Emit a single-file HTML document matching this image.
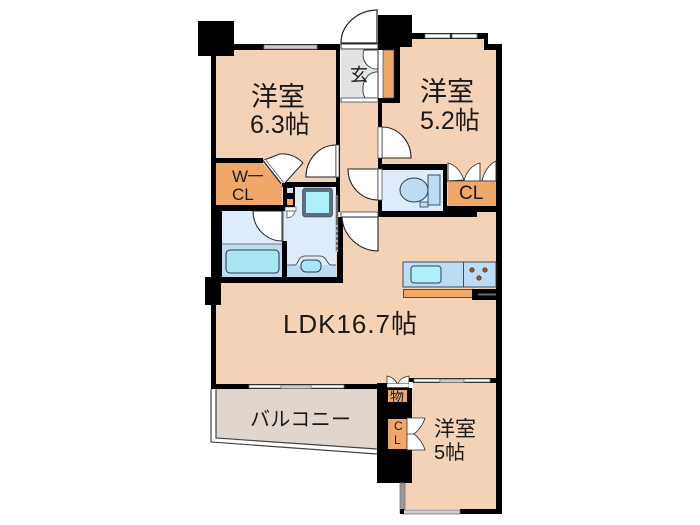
<!DOCTYPE html>
<html><head><meta charset="utf-8"><style>
html,body{margin:0;padding:0;background:#fff;width:700px;height:525px;overflow:hidden}
svg{display:block}
text{font-family:"Liberation Sans","Noto Sans CJK JP",sans-serif;fill:#1a1a1a}
</style></head><body>
<svg width="700" height="525" viewBox="0 0 700 525" xmlns="http://www.w3.org/2000/svg">
<rect width="700" height="525" fill="#fff"/>
<!-- floors -->
<path d="M216 50H340V211H216Z" fill="#f3d2b5"/>
<path d="M400 39H484V50H496V211H382V103H400Z" fill="#f3d2b5"/>
<path d="M340 98H380V215H340Z" fill="#f3d2b5"/>
<path d="M216 217H496V385H216Z" fill="#f3d2b5"/>
<rect x="470" y="210" width="26" height="8" fill="#f3d2b5"/>
<path d="M405 383H496V509H405Z" fill="#f3d2b5"/>
<path d="M341 50H378V98H341Z" fill="#e2e2e2"/>
<path d="M216 389H377V449L216 438Z" fill="#e0d6cd"/>
<!-- balcony rail -->
<path d="M211 389V442L377 454" fill="none" stroke="#444" stroke-width="1.200"/>
<path d="M216 389V438L377 449" fill="none" stroke="#444" stroke-width="1.200"/>
<!-- wash / bath / toilet -->
<rect x="222" y="211" width="60" height="33" fill="#dcecfb"/>
<rect x="222" y="244" width="60" height="33" fill="#bcdcf6"/>
<rect x="283" y="187" width="53" height="90" fill="#dcecfb"/>
<rect x="287" y="265" width="49" height="12" fill="#bcdcf6"/>
<rect x="382" y="170" width="61" height="41" fill="#dcecfb"/>
<!-- walls -->
<g fill="#000">
<rect x="198" y="21" width="36" height="35"/>
<rect x="234" y="44" width="106" height="6"/>
<rect x="211" y="50" width="5" height="339"/>
<rect x="216" y="158" width="47" height="5"/>
<rect x="216" y="205" width="79" height="6"/>
<rect x="216" y="205" width="6" height="72"/>
<rect x="282" y="182" width="58" height="5"/>
<rect x="283" y="182" width="12" height="25"/>
<rect x="282" y="241" width="5" height="42"/>
<rect x="205" y="277" width="135" height="6"/>
<rect x="205" y="277" width="16" height="28"/>
<rect x="336" y="50" width="4" height="162"/>
<rect x="337" y="217" width="6" height="66"/>
<rect x="378" y="15" width="34" height="32"/>
<rect x="378" y="47" width="22" height="3"/>
<rect x="394" y="47" width="6" height="56"/>
<rect x="378" y="98" width="22" height="5"/>
<rect x="378" y="103" width="4" height="24"/>
<rect x="412" y="33" width="76" height="6"/>
<rect x="484" y="39" width="4" height="11"/>
<rect x="484" y="44" width="18" height="6"/>
<rect x="496" y="44" width="6" height="470"/>
<rect x="378" y="158" width="4" height="12"/>
<rect x="378" y="164" width="69" height="6"/>
<rect x="443" y="164" width="4" height="52"/>
<rect x="378" y="200" width="4" height="17"/>
<rect x="378" y="211" width="99" height="6"/>
<rect x="447" y="206" width="50" height="6"/>
<rect x="211" y="384" width="166" height="5"/>
<rect x="377" y="383" width="35" height="100"/>
<rect x="405" y="378" width="92" height="5"/>
<rect x="460" y="509" width="42" height="5"/>
</g>
<!-- windows -->
<g stroke="#777" stroke-width=".8">
<rect x="264" y="45" width="53" height="4" fill="#ccc"/>
<rect x="425" y="34" width="25" height="4" fill="#fff"/>
<rect x="452" y="34" width="25" height="4" fill="#fff"/>
<rect x="249" y="385" width="32" height="3" fill="#fff"/>
<rect x="281" y="385" width="30" height="3.500" fill="#ccc"/>
<rect x="311" y="385" width="33" height="3" fill="#fff"/>
<rect x="414" y="379" width="26" height="3" fill="#fff"/>
<rect x="440" y="379" width="24" height="3.500" fill="#ccc"/>
<rect x="464" y="379" width="26" height="3" fill="#fff"/>
<rect x="400" y="483" width="5" height="30" fill="#999"/>
<rect x="403" y="510" width="57" height="4" fill="#ccc"/>
</g>
<rect x="400" y="509" width="4" height="5" fill="#000"/>
<!-- front door -->
<path d="M341 43A37 33 0 0 1 377 10V43Z" fill="#fff" stroke="#222" stroke-width="1.200"/>
<rect x="341" y="44" width="37" height="5" fill="#fff" stroke="#333" stroke-width="1"/>
<!-- entry closet -->
<rect x="378" y="50" width="5" height="48" fill="#fff"/>
<rect x="383" y="50" width="11" height="48" fill="#f0a868" stroke="#333" stroke-width=".6"/>
<path d="M378 50H364A14 14 0 0 0 378 69ZM378 98H365A14 17 0 0 1 378 72Z" fill="#fff" stroke="#333" stroke-width=".9"/>
<path d="M378 50V98" stroke="#333" stroke-width="1"/>
<rect x="341" y="98" width="37" height="4" fill="#fff" stroke="#444" stroke-width=".8"/>
<!-- W-CL -->
<path d="M216 163H262L282 184V205H216Z" fill="#f0a868"/>
<path d="M264 160L284 184L303 163A28 28 0 0 0 280 154Z" fill="#fff" stroke="#222" stroke-width="1"/>
<path d="M264 160L282 183" stroke="#333" stroke-width="3.500"/>
<path d="M264.500 160L282.500 183" stroke="#fff" stroke-width="1.500"/>
<!-- shaft -->
<rect x="287" y="188" width="6" height="5" fill="#c7e5f5"/>
<rect x="287" y="199" width="6" height="6" fill="#f0a868"/>
<!-- room door 6.3 / wash -->
<path d="M336 177H306A30 32 0 0 1 336 145Z" fill="#fff" stroke="#222" stroke-width="1.100"/>
<rect x="336" y="145" width="3" height="32" fill="#fff" stroke="#444" stroke-width=".7"/>
<!-- bath door -->
<path d="M282 211V241A29 30 0 0 1 253 211Z" fill="#fff" stroke="#222" stroke-width="1"/>
<rect x="282" y="211" width="1.500" height="30" fill="#555"/>
<!-- bath tub -->
<rect x="226" y="250" width="53" height="23" rx="4" fill="#a8e6f6" stroke="#2d3f50" stroke-width="1.100"/>
<path d="M222 244H282" stroke="#555" stroke-width=".7"/>
<!-- washroom door bits -->
<path d="M285 207H296V211H285Z" fill="#fff" stroke="#444" stroke-width=".6"/>
<path d="M287 211V218A8 8 0 0 0 295 211Z" fill="#fff" stroke="#444" stroke-width=".7"/>
<rect x="302.500" y="188" width="30" height="29" rx="3" fill="#5b7080" stroke="#333" stroke-width=".6"/>
<rect x="306" y="192" width="23" height="21" fill="#aef0fa"/>
<path d="M287 265H295C298 265 298 256 305 256H320C327 256 327 265 331 265H336" fill="#dcecfb" stroke="#333" stroke-width=".8"/>
<rect x="301" y="260" width="20" height="12" rx="5" fill="#a8e6f6" stroke="#2d3f50" stroke-width="1"/>
<path d="M337 195V252" stroke="#666" stroke-width="2.500"/>
<path d="M337 225V252" stroke="#fff" stroke-width="1" stroke-dasharray="2 3"/>
<!-- door into 5.2 -->
<path d="M382 127A29 31 0 0 1 411 158H382Z" fill="#fff" stroke="#222" stroke-width="1.100"/>
<rect x="378" y="127" width="4" height="31" fill="#fff" stroke="#444" stroke-width=".7"/>
<!-- toilet door -->
<path d="M378 169H348A30 31 0 0 0 378 200Z" fill="#fff" stroke="#222" stroke-width="1.100"/>
<rect x="378" y="169" width="4" height="31" fill="#fff" stroke="#444" stroke-width=".7"/>
<!-- toilet -->
<ellipse cx="414" cy="190" rx="14" ry="12" fill="#bcdcf6" stroke="#2d3f50" stroke-width="1"/>
<rect x="428" y="175" width="12" height="30" fill="#bcdcf6" stroke="#2d3f50" stroke-width=".9"/>
<rect x="420" y="202" width="8" height="5" fill="#bcdcf6" stroke="#2d3f50" stroke-width=".8"/>
<!-- CL 5.2 -->
<rect x="448" y="182" width="48" height="24" fill="#f0a868"/>
<path d="M448 181V163C456 165 461 172 464 180ZM464 181C466 172 472 165 480 163V181ZM482 181C484 172 488 165 496 161V181Z" fill="#fff" stroke="#333" stroke-width=".9"/>
<path d="M447 181H496" stroke="#333" stroke-width="1"/>
<!-- LDK door -->
<rect x="341" y="212" width="37" height="5" fill="#fff" stroke="#444" stroke-width=".8"/>
<path d="M342 217H378V251A37 36 0 0 1 342 217Z" fill="#fff" stroke="#222" stroke-width="1.100"/>
<!-- kitchen -->
<rect x="403" y="262" width="93" height="25" fill="#bcdcf6" stroke="#2d3f50" stroke-width=".9"/>
<path d="M463.500 262V287" stroke="#2d3f50" stroke-width=".9"/>
<rect x="411" y="266" width="30" height="17" rx="3" fill="#aef0fa" stroke="#2d3f50" stroke-width="1"/>
<g fill="#b5541c" stroke="#222" stroke-width=".7"><circle cx="472" cy="270" r="2.200"/><circle cx="485" cy="270" r="2.200"/><circle cx="479" cy="278" r="2.200"/></g>
<rect x="403.500" y="289.500" width="69" height="8" fill="#f0a868" stroke="#333" stroke-width=".8"/>
<rect x="472" y="289" width="24" height="11" fill="#000"/>
<rect x="478" y="293.500" width="18" height="2" fill="#667"/>
<!-- door at 物 -->
<path d="M387 376C392 377 396 380 397 384H387ZM409 376C403 377 399 380 398 384H409Z" fill="#fff" stroke="#333" stroke-width=".8"/>
<rect x="387" y="383.500" width="22" height="4" fill="#fff" stroke="#333" stroke-width=".5"/>
<rect x="409" y="382" width="4" height="6" fill="#fff"/>
<rect x="388" y="390" width="19" height="12" fill="#f0a868"/>
<rect x="388" y="419" width="19" height="30" fill="#f0a868"/>
<path d="M407 418H425C423 425 418 431 414 434C418 437 423 443 425 450H407Z" fill="#fff" stroke="#333" stroke-width=".8"/>
<path d="M407 434H414" stroke="#333" stroke-width=".8"/>
<!-- labels -->
<text x="251" y="106" font-size="27">洋室</text>
<text x="250" y="133" font-size="25">6.3帖</text>
<text x="420" y="101" font-size="27">洋室</text>
<text x="420" y="129" font-size="25">5.2帖</text>
<text x="283" y="333" font-size="26" textLength="134" lengthAdjust="spacing">LDK16.7帖</text>
<text x="250" y="426" font-size="20" textLength="101">バルコニー</text>
<text x="434" y="436" font-size="21">洋室</text>
<text x="434" y="459" font-size="20">5帖</text>
<text x="232" y="182" font-size="17">W</text>
<rect x="248" y="175" width="15" height="1.300" fill="#222"/>
<text x="232" y="200" font-size="17">CL</text>
<text x="459" y="199" font-size="19">CL</text>
<text x="350" y="81" font-size="18">玄</text>
<text x="390" y="402" font-size="14">物</text>
<text x="394" y="430" font-size="12">C</text>
<text x="394" y="444" font-size="12">L</text>
</svg>
</body></html>
